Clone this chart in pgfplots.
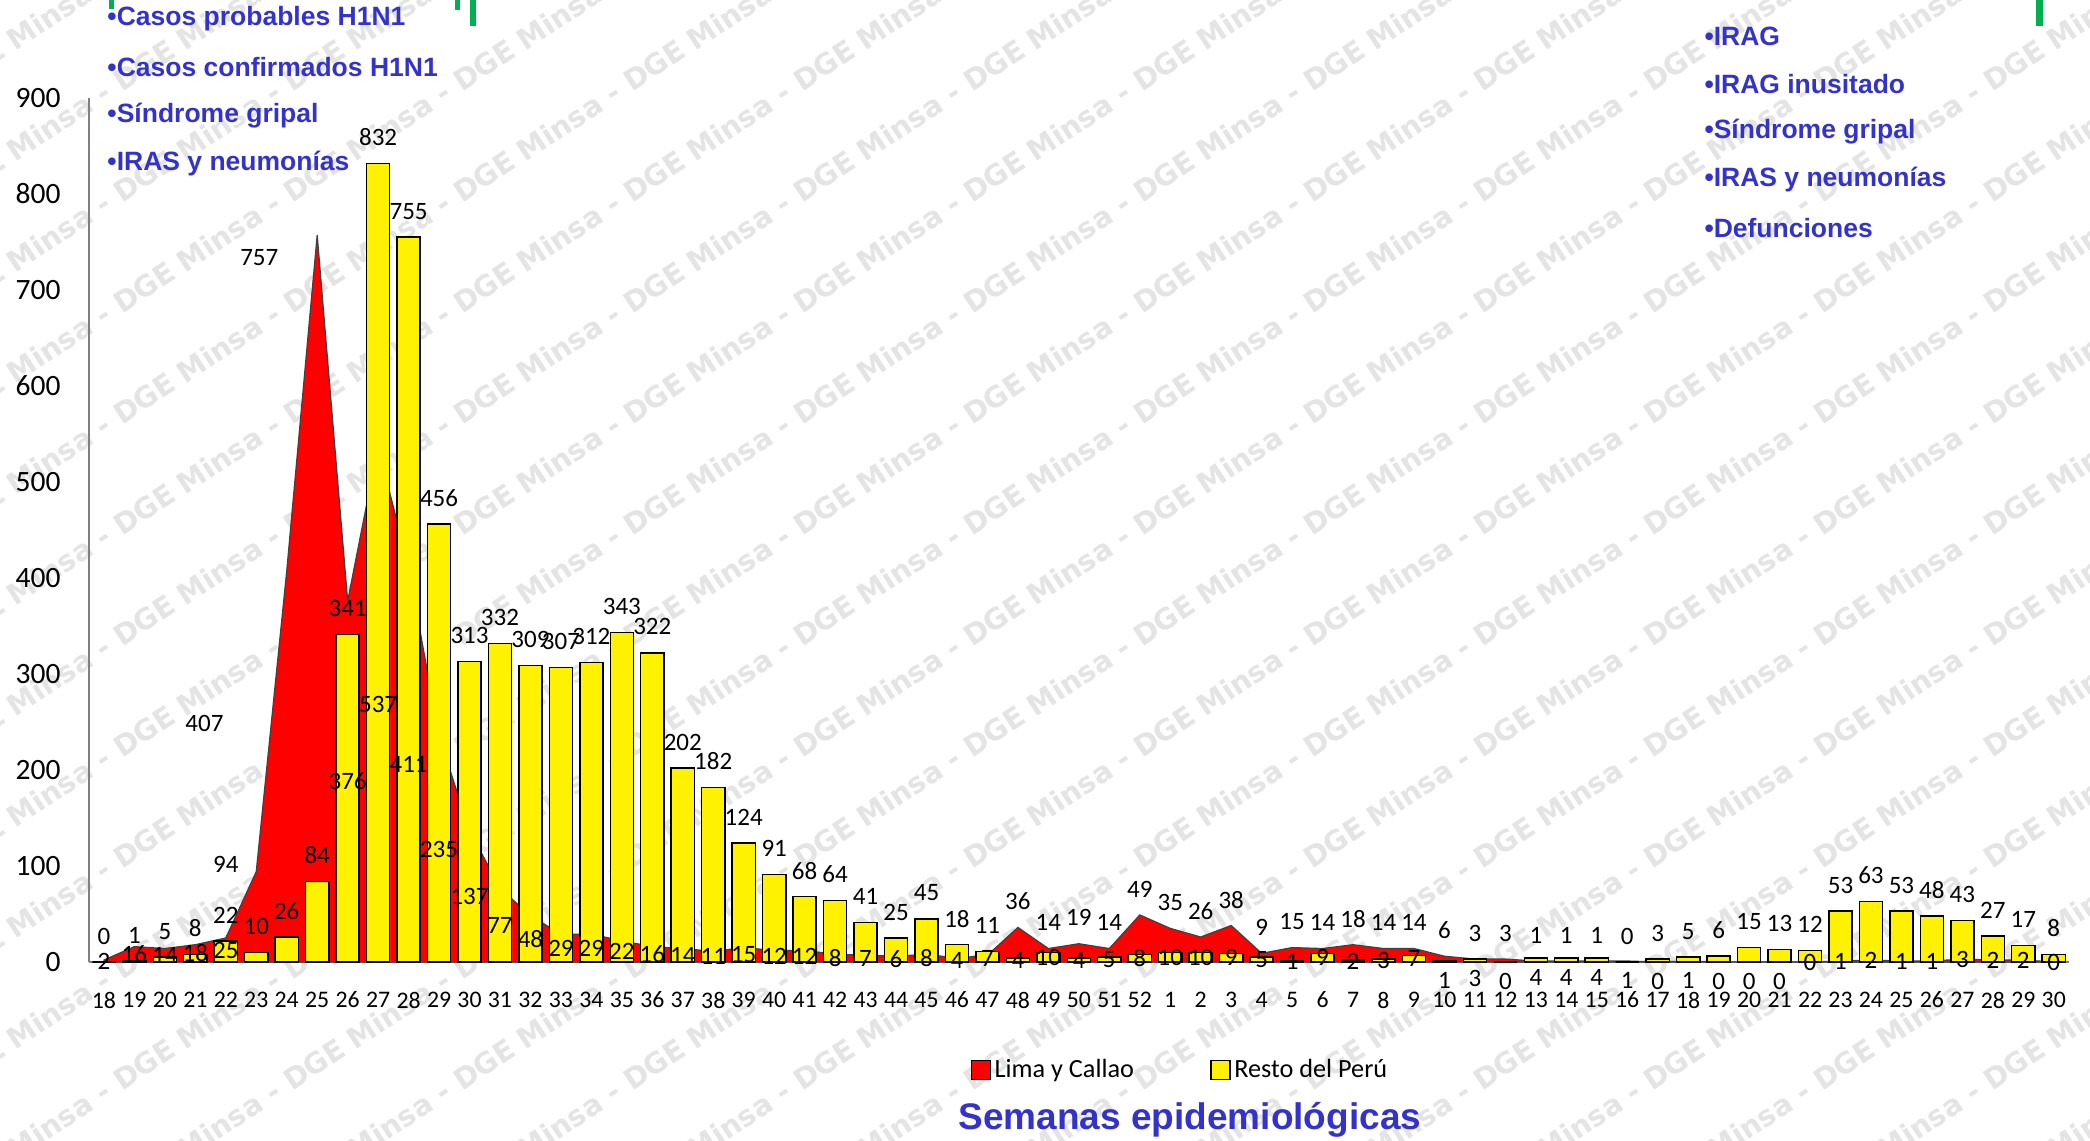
\documentclass[border=0pt]{standalone}
\usepackage{fontspec}
\setmainfont{Carlito}
\newfontfamily\arial{Liberation Sans}
\newfontfamily\dejavu{DejaVu Sans}
\usepackage{pgfplots}
\pgfplotsset{compat=1.18}
\usepackage{pgfplotstable}

\definecolor{titleblue}{RGB}{51,51,204}
\definecolor{wmgray}{RGB}{228,228,228}
\definecolor{mkgreen}{RGB}{0,176,80}
\definecolor{axgray}{RGB}{128,128,128}

\tikzset{labnode/.style={anchor=center, text=black, inner sep=1pt,
    font=\fontsize{10}{12}\selectfont}}

% x = week index (0 = week 18 of 2009, 35 = week 1 of 2010)
% R = Lima y Callao, Y = Resto del Peru
% dR, dY = vertical offset of the label centre (data units), xR = horizontal offset (weeks)
\pgfplotstableread{
x R Y dR xR dY
0 2 0 -1 0 27
1 16 1 -8 0 27
2 14 5 -7 0 27
3 18 8 -9 0 27
4 25 22 -12.5 0 27
5 94 10 8 -1 27
6 407 26 -159 -2.7 27
7 757 84 -23 -1.9 27
8 376 341 -188 0 27
9 537 832 -268.5 0 27
10 411 755 -205.5 0 27
11 235 456 -117.5 0 27
12 137 313 -68.5 0 27
13 77 332 -38.5 0 27
14 48 309 -24 0 27
15 29 307 -14.5 0 27
16 29 312 -14.5 0 27
17 22 343 -11 0 27
18 16 322 -8 0 27
19 14 202 -7 0 27
20 11 182 -5.5 0 27
21 15 124 -7.5 0 27
22 12 91 -6 0 27
23 12 68 -6 0 27
24 8 64 -4 0 27
25 7 41 -3.5 0 27
26 6 25 -3 0 27
27 8 45 -4 0 27
28 4 18 -2 0 27
29 7 11 -3.5 0 27
30 36 4 27 0 -2
31 14 10 27 0 -5
32 19 4 27 0 -2
33 14 5 27 0 -2.5
34 49 8 27 0 -4
35 35 10 27 0 -5
36 26 10 27 0 -5
37 38 9 27 0 -4.5
38 9 5 27 0 -2.5
39 15 1 27 0 -0.5
40 14 9 27 0 -4.5
41 18 2 27 0 -1
42 14 3 27 0 -1.5
43 14 7 27 0 -3.5
44 6 1 27 0 -20
45 3 3 27 0 -20
46 3 0 27 0 -20
47 1 4 27 0 -20
48 1 4 27 0 -20
49 1 4 27 0 -20
50 1 0 -20 0 27
51 0 3 -20 0 27
52 1 5 -20 0 27
53 0 6 -20 0 27
54 0 15 -20 0 27
55 0 13 -20 0 27
56 0 12 0 0 27
57 1 53 0 0 27
58 2 63 0 0 27
59 1 53 0 0 27
60 1 48 0 0 27
61 3 43 0 0 27
62 2 27 0 0 27
63 2 17 0 0 27
64 0 8 0 0 27
}\datatable

\begin{document}
\begin{tikzpicture}[x=1pt,y=1pt]
% watermark
\foreach \i in {-1,...,12}{
  \foreach \j in {-1,...,10}{
    \node[rotate=33.5, text=wmgray, inner sep=0pt,
          font=\dejavu\bfseries\fontsize{11.5}{12}\selectfont]
      at ({0.8+68*\i},{344.8-44.4*\j}) {Minsa - DGE};
  }
}

\begin{axis}[
  at={(0,0)}, anchor=south west,
  scale only axis, width=792pt, height=345.6pt,
  xmin=-0.49, xmax=64.5, ymin=0, ymax=900,
  axis x line*=bottom, axis y line*=left,
  axis line style={draw=axgray, line width=0.6pt},
  major tick length=0pt,
  /pgf/number format/assume math mode=true,
  xtick={0,...,64},
  xticklabel={\pgfmathparse{int(mod(\tick+17,52)+1)}\pgfmathresult},
  ytick={0,100,...,900},
  xticklabel style={font=\fontsize{9.5}{11}\selectfont, inner sep=0pt, anchor=center, yshift=-15.2pt},
  yticklabel style={font=\fontsize{11.8}{13}\selectfont, inner sep=0pt, anchor=east, xshift=-11.2pt},
  clip=false,
  xlabel={Semanas epidemiológicas},
  xlabel style={at={(axis description cs:0.556,-0.183)}, anchor=center,
    font=\arial\bfseries\fontsize{14.8}{16}\selectfont, text=titleblue},
  legend columns=2,
  legend style={at={(0.445,-0.125)}, anchor=west, draw=none, fill=none,
    inner sep=0pt, font=\fontsize{10.5}{12}\selectfont,
    nodes={inner sep=1.5pt},
    /tikz/every even column/.append style={column sep=29pt}},
  legend cell align=left,
]
\addplot[fill=red, draw=black!75, line width=0.5pt, mark=none,
  legend image code/.code={\draw[fill=red, draw=black, line width=0.5pt] (-2pt,-3.8pt) rectangle (5.6pt,3.8pt);}
] table[x=x, y=R] {\datatable} \closedcycle;
\addlegendentry{Lima y Callao}

\addplot[ybar, bar width=9.26pt, bar shift=0pt, fill=yellow, draw=black, line width=0.6pt,
  legend image code/.code={\draw[fill=yellow, draw=black, line width=0.5pt] (-2pt,-3.8pt) rectangle (5.6pt,3.8pt);}
] table[x=x, y=Y] {\datatable};
\addlegendentry{Resto del Perú}

% data labels: value from the data, placed beside its point
\addplot[draw=none, mark=none, forget plot, point meta=explicit,
  nodes near coords={\pgfmathprintnumber[assume math mode=true]{\pgfplotspointmeta}},
  every node near coord/.style={labnode}
] table[x expr=\thisrow{x}+\thisrow{xR}, y expr=\thisrow{R}+\thisrow{dR}, meta=R] {\datatable};
\addplot[draw=none, mark=none, forget plot, point meta=explicit,
  nodes near coords={\pgfmathprintnumber[assume math mode=true]{\pgfplotspointmeta}},
  every node near coord/.style={labnode}
] table[x=x, y expr=\thisrow{Y}+\thisrow{dY}, meta=Y] {\datatable};
\end{axis}

% surveillance lists
\begin{scope}[every node/.style={anchor=west, inner sep=0pt, text=titleblue,
    font=\arial\bfseries\fontsize{10.6}{12}\selectfont}]
  \node at (7.2,377.2) {•Casos probables H1N1};
  \node at (7.2,358.0) {•Casos confirmados H1N1};
  \node at (7.2,338.4) {•Síndrome gripal};
  \node at (7.2,319.2) {•IRAS y neumonías};
  \node at (646,370.4) {•IRAG};
  \node at (646,351.2) {•IRAG inusitado};
  \node at (646,332.0) {•Síndrome gripal};
  \node at (646,312.8) {•IRAS y neumonías};
  \node at (646,293.6) {•Defunciones};
\end{scope}

% green marks at the top edge
\fill[mkgreen] (8,381.2) rectangle (10,384.8);
\fill[mkgreen] (146.4,380.8) rectangle (148.4,384.8);
\fill[mkgreen] (152.4,374.4) rectangle (154.8,384.8);
\fill[mkgreen] (778.8,374.4) rectangle (781.6,384.8);

\pgfresetboundingbox
\path[use as bounding box] (-35.6,-71.6) rectangle (800.4,384.8);
\end{tikzpicture}
\end{document}
